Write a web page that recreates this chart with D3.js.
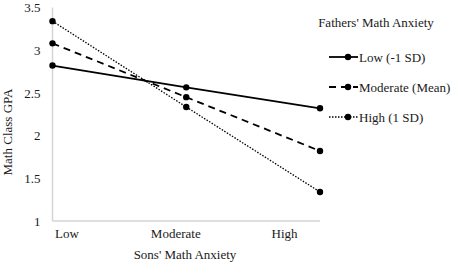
<!DOCTYPE html>
<html><head><meta charset="utf-8">
<script src="https://cdn.jsdelivr.net/npm/d3@7"></script>
<style>
html,body{margin:0;padding:0;background:#fff;}
</style></head>
<body><svg id="c" width="455" height="263"></svg>
<script>
const categories = ["Low", "Moderate", "High"];
const seriesNames = ["Low (-1 SD)", "Moderate (Mean)", "High (1 SD)"];
const lowSD = [2.82, 2.565, 2.32];
const meanSD = [3.08, 2.45, 1.82];
const highSD = [3.34, 2.335, 1.34];
const yTicks = [1, 1.5, 2, 2.5, 3, 3.5];
const yTickLabels = ["1", "1.5", "2", "2.5", "3", "3.5"];
const legendTitle = "Fathers' Math Anxiety";
const xTitle = "Sons' Math Anxiety";
const yTitle = "Math Class GPA";

const seriesValues = [lowSD, meanSD, highSD];
const styles = [
  {dash: null, w: 1.8},
  {dash: "7,5", w: 1.8},
  {dash: "1.5,1.5", w: 1.3}
];
const FONT = "'Liberation Serif', 'Times New Roman', serif";
const TXT = "#1a1a1a";

const svg = d3.select("#c");
const x = d3.scalePoint().domain(categories).range([52.5, 320]);
const xLab = d3.scalePoint().domain(categories).range([66.5, 284]);
const y = d3.scaleLinear().domain([1, 3.5]).range([221, 7.5]);

function styleText(sel) {
  return sel.style("font-family", FONT).style("font-size", "13px").style("fill", TXT);
}

// axes lines
svg.append("line").attr("x1", 52.5).attr("x2", 52.5).attr("y1", 7.5).attr("y2", 221)
  .attr("stroke", "#d4d4d4").attr("stroke-width", 1.5);
svg.append("line").attr("x1", 52.5).attr("x2", 320).attr("y1", 221).attr("y2", 221)
  .attr("stroke", "#d4d4d4").attr("stroke-width", 1.5);

// y axis labels
const yAxis = d3.axisLeft(y).tickValues(yTicks).tickSize(0).tickPadding(12)
  .tickFormat((d, i) => yTickLabels[i]);
const yg = svg.append("g").attr("transform", "translate(52.5,0)").call(yAxis);
yg.select(".domain").remove();
yg.attr("font-family", null).attr("font-size", null);
styleText(yg.selectAll("text"));

// x axis labels
const xAxis = d3.axisBottom(xLab).tickSize(0).tickPadding(8);
const xg = svg.append("g").attr("transform", "translate(0,221)").call(xAxis);
xg.select(".domain").remove();
xg.attr("font-family", null).attr("font-size", null);
styleText(xg.selectAll("text"));

// titles
styleText(svg.append("text").attr("x", 185).attr("y", 259).attr("text-anchor", "middle").text(xTitle));
styleText(svg.append("text").attr("transform", "translate(12,132) rotate(-90)").attr("text-anchor", "middle").text(yTitle));

// lines
const line = d3.line().x((d, i) => x(categories[i])).y(d => y(d));
seriesValues.forEach((vals, s) => {
  svg.append("path").attr("d", line(vals)).attr("fill", "none")
    .attr("stroke", "#000").attr("stroke-width", styles[s].w)
    .attr("stroke-dasharray", styles[s].dash);
  svg.selectAll(null).data(vals).enter().append("circle")
    .attr("cx", (d, i) => x(categories[i])).attr("cy", d => y(d)).attr("r", 3.2).attr("fill", "#000");
});

// legend
styleText(svg.append("text").attr("x", 376).attr("y", 27).attr("text-anchor", "middle").text(legendTitle));
seriesNames.forEach((n, s) => {
  const ly = 57 + s * 30;
  svg.append("line").attr("x1", 329).attr("x2", 358).attr("y1", ly).attr("y2", ly)
    .attr("stroke", "#000").attr("stroke-width", styles[s].w)
    .attr("stroke-dasharray", styles[s].dash);
  svg.append("circle").attr("cx", 348).attr("cy", ly).attr("r", 3.2).attr("fill", "#000");
  styleText(svg.append("text").attr("x", 359).attr("y", ly + 4.5).text(n));
});
</script></body></html>
